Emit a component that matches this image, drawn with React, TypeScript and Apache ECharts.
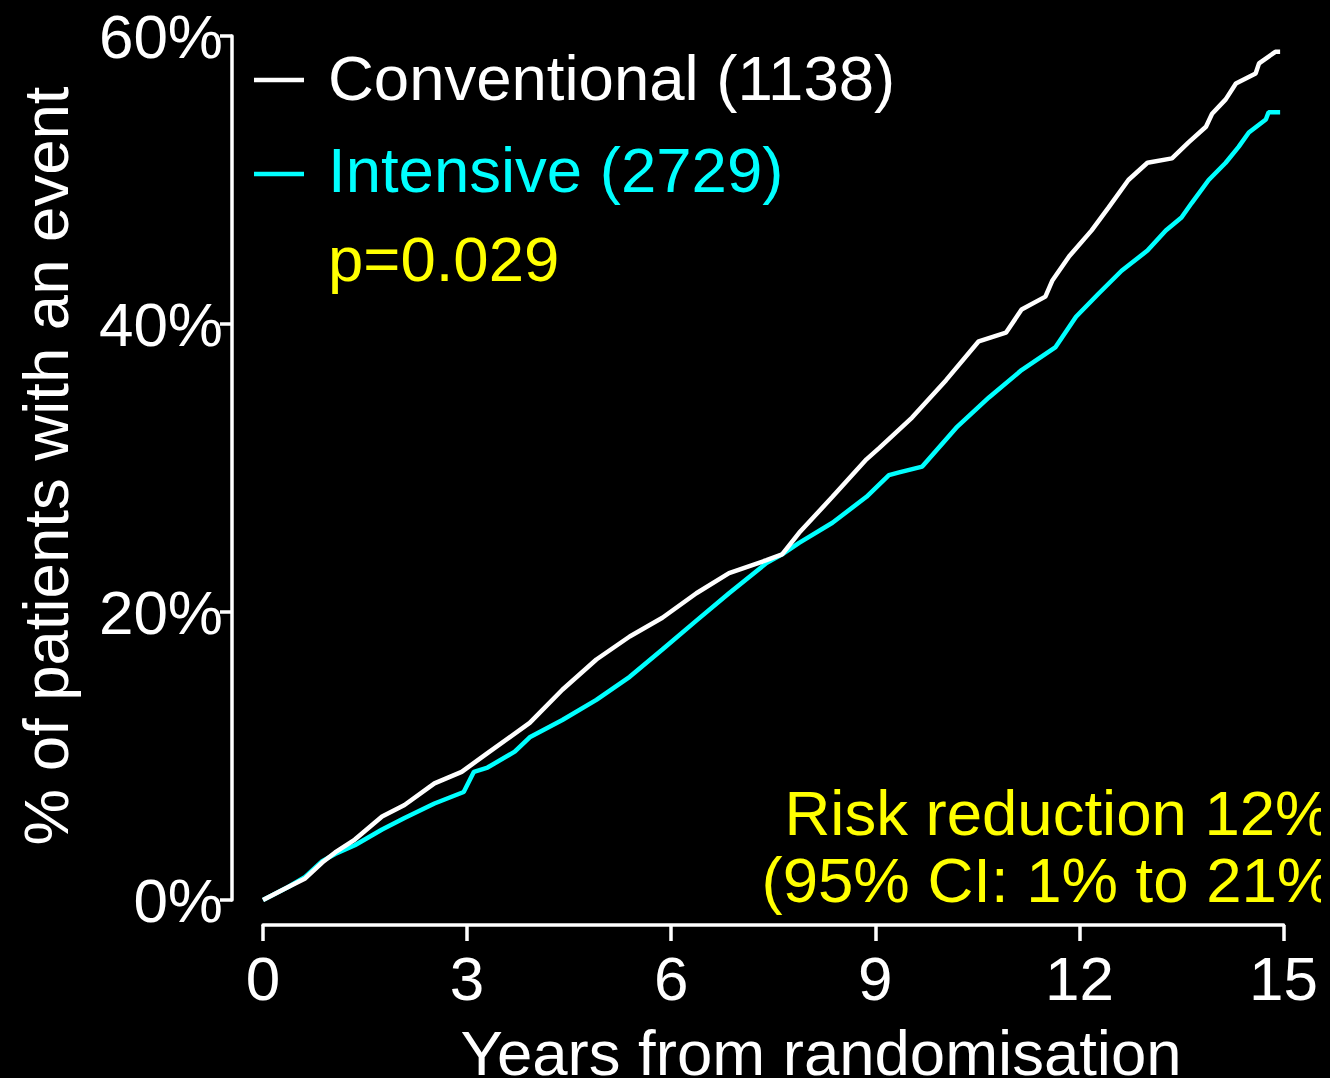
import React, { useEffect, useRef } from "react";
import * as echarts from "echarts";

const conventionalYears = [0, 0.37, 0.62, 0.87, 1.06, 1.35, 1.75, 2.08, 2.52, 2.92, 3.3, 3.92, 4.4, 4.9, 5.39, 5.87, 6.37, 6.85, 7.4, 7.63, 7.88, 8.37, 8.87, 9.06, 9.54, 10.04, 10.52, 10.92, 11.15, 11.5, 11.6, 11.85, 12.18, 12.43, 12.72, 13.0, 13.36, 13.6, 13.86, 13.95, 14.15, 14.3, 14.59, 14.64, 14.88, 14.95];
const conventionalPct = [0, 0.9, 1.5, 2.6, 3.3, 4.2, 5.8, 6.6, 8.1, 8.9, 10.2, 12.3, 14.6, 16.7, 18.3, 19.6, 21.3, 22.7, 23.6, 24.0, 25.5, 28.0, 30.6, 31.4, 33.5, 36.1, 38.8, 39.4, 41.0, 41.9, 43.0, 44.7, 46.5, 48.1, 50.0, 51.2, 51.5, 52.6, 53.7, 54.6, 55.6, 56.7, 57.4, 58.1, 58.9, 58.9];

const intensiveYears = [0, 0.37, 0.62, 0.87, 1.06, 1.35, 1.75, 2.08, 2.52, 2.95, 3.1, 3.3, 3.7, 3.92, 4.4, 4.9, 5.39, 5.87, 6.37, 6.85, 7.4, 7.63, 7.88, 8.37, 8.87, 9.2, 9.35, 9.69, 10.19, 10.67, 11.15, 11.65, 11.95, 12.28, 12.62, 13.0, 13.27, 13.5, 13.65, 13.9, 14.15, 14.34, 14.49, 14.74, 14.78, 14.95];
const intensivePct = [0, 0.9, 1.6, 2.7, 3.2, 3.8, 4.9, 5.7, 6.7, 7.5, 8.9, 9.2, 10.3, 11.3, 12.5, 13.9, 15.5, 17.4, 19.4, 21.3, 23.4, 24.0, 24.8, 26.2, 28.0, 29.5, 29.7, 30.1, 32.8, 34.9, 36.8, 38.4, 40.5, 42.1, 43.7, 45.1, 46.5, 47.4, 48.4, 50.0, 51.2, 52.3, 53.3, 54.2, 54.7, 54.7];

const xTicks = [0, 3, 6, 9, 12, 15];
const yTicks = [0, 20, 40, 60];

const FONT = "'Liberation Sans', Arial, Helvetica, sans-serif";

export default function App() {
  const ref = useRef<HTMLDivElement>(null);
  useEffect(() => {
    document.body.style.margin = "0";
    document.body.style.background = "#000";
    if (!ref.current) return;
    const chart = echarts.init(ref.current, undefined, { renderer: "svg" });
    const pair = (xs: number[], ys: number[]) => xs.map((x, i) => [x, ys[i]]);
    chart.setOption({
      animation: false,
      backgroundColor: "#000",
      textStyle: { fontFamily: FONT },
      grid: { left: 263, top: 36, width: 1022, height: 864 },
      xAxis: {
        type: "value",
        min: xTicks[0],
        max: xTicks[xTicks.length - 1],
        interval: 3,
        offset: 25,
        axisLine: { show: true, onZero: false, lineStyle: { color: "#fff", width: 3.5 } },
        axisTick: { show: true, length: 16, lineStyle: { color: "#fff", width: 3.5 } },
        axisLabel: { color: "#fff", fontSize: 62, margin: 22, fontFamily: FONT },
        splitLine: { show: false },
      },
      yAxis: {
        type: "value",
        min: yTicks[0],
        max: yTicks[yTicks.length - 1],
        interval: 20,
        offset: 31,
        axisLine: { show: true, onZero: false, lineStyle: { color: "#fff", width: 3.5 } },
        axisTick: { show: true, length: 12, lineStyle: { color: "#fff", width: 3.5 } },
        axisLabel: { color: "#fff", fontSize: 62, margin: 9, formatter: "{value}%", fontFamily: FONT },
        splitLine: { show: false },
      },
      series: [
        {
          name: "Intensive (2729)",
          type: "line",
          data: pair(intensiveYears, intensivePct),
          showSymbol: false,
          lineStyle: { color: "#00ffff", width: 4.5 },
          z: 2,
        },
        {
          name: "Conventional (1138)",
          type: "line",
          data: pair(conventionalYears, conventionalPct),
          showSymbol: false,
          lineStyle: { color: "#ffffff", width: 4.5 },
          z: 3,
        },
      ],
      graphic: [
        { type: "line", shape: { x1: 254, y1: 80, x2: 304, y2: 80 }, style: { stroke: "#fff", lineWidth: 4.5 } },
        { type: "text", x: 328, y: 78, style: { text: "Conventional (1138)", fill: "#fff", font: `63.5px ${FONT}`, textAlign: "left", textVerticalAlign: "middle" } },
        { type: "line", shape: { x1: 254, y1: 174, x2: 304, y2: 174 }, style: { stroke: "#00ffff", lineWidth: 4.5 } },
        { type: "text", x: 328, y: 170, style: { text: "Intensive (2729)", fill: "#00ffff", font: `63.5px ${FONT}`, textAlign: "left", textVerticalAlign: "middle" } },
        { type: "text", x: 328, y: 259, style: { text: "p=0.029", fill: "#ffff00", font: `63.5px ${FONT}`, textAlign: "left", textVerticalAlign: "middle" } },
        { type: "text", x: 1058, y: 813, style: { text: "Risk reduction 12%", fill: "#ffff00", font: `63.5px ${FONT}`, textAlign: "center", textVerticalAlign: "middle" } },
        { type: "text", x: 1058, y: 880, style: { text: "(95% CI: 1% to 21%)", fill: "#ffff00", font: `63.5px ${FONT}`, textAlign: "center", textVerticalAlign: "middle" } },
        { type: "text", x: 821, y: 1053, style: { text: "Years from randomisation", fill: "#fff", font: `63.5px ${FONT}`, textAlign: "center", textVerticalAlign: "middle" } },
        { type: "text", x: 46, y: 466, rotation: Math.PI / 2, style: { text: "% of patients with an event", fill: "#fff", font: `63.5px ${FONT}`, textAlign: "center", textVerticalAlign: "middle" } },
      ],
    });
    return () => chart.dispose();
  }, []);
  return <div ref={ref} style={{ width: 1321, height: 1078 }} />;
}
